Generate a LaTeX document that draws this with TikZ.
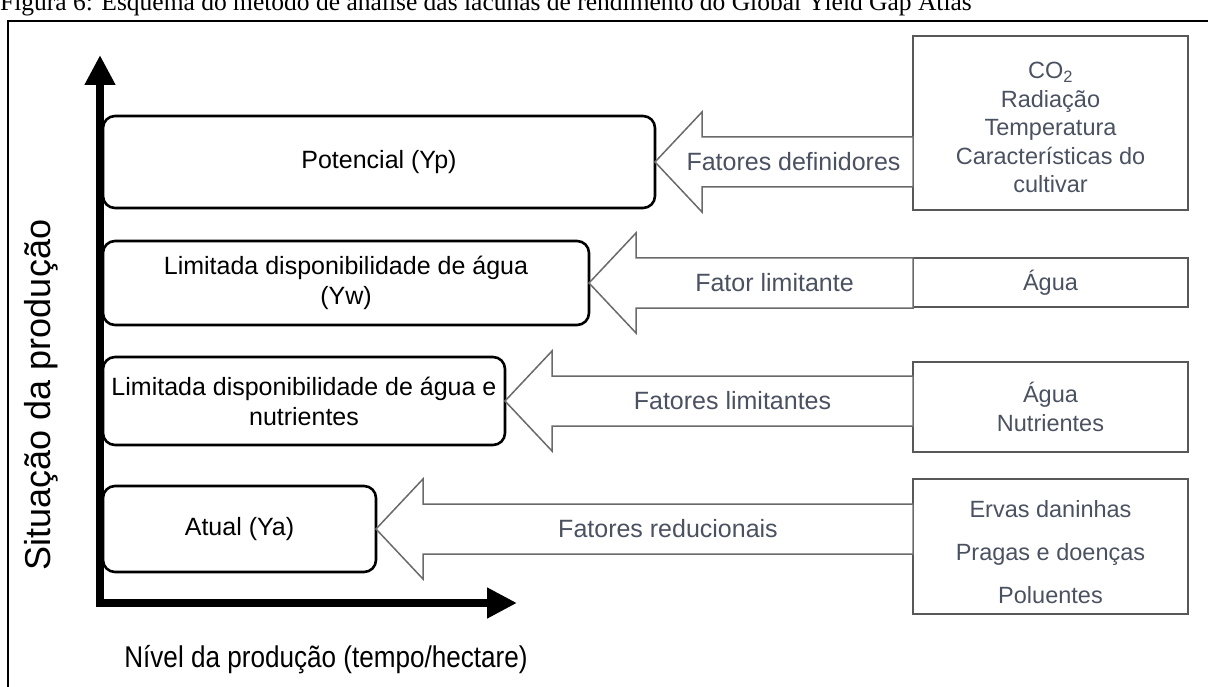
\documentclass[tikz,border=0pt]{standalone}
\usepackage{fontspec}
\setmainfont{Liberation Sans}
\newfontfamily\captionserif{Liberation Serif}
\usetikzlibrary{arrows.meta,positioning,calc}
\definecolor{slate}{HTML}{4A5160}
\definecolor{flowgray}{HTML}{6A6A6A}
\definecolor{boxgray}{HTML}{585858}
\newcommand{\pxfont}[2]{\fontsize{#1pt}{#2pt}\selectfont}

\begin{document}
\begin{tikzpicture}[x=1pt, y=-1pt,
  stage/.style={draw, line width=2.6pt, rounded corners=12pt, anchor=north west, align=center, inner sep=0pt, outer sep=0pt, font=\pxfont{25}{30}},
  factors/.style={draw=boxgray, line width=1.8pt, anchor=north west, align=center, inner sep=0pt, outer sep=0pt, text=slate, font=\pxfont{23.5}{28.5}},
  flow/.style={draw=flowgray, line width=1.5pt, fill=white},
  flowlabel/.style={text=slate, font=\pxfont{25}{30}, inner sep=0pt},
  axis/.style={line width=8.5pt, -{Triangle[length=30pt,width=29pt]}},
  axislabel/.style={inner sep=0pt}]
\useasboundingbox (0,0) rectangle (1208,687);
% page frame and (cut) caption
\draw[line width=1.8pt] (1208,21) -- (8,21) -- (8,687);
\node[font=\captionserif\pxfont{25.5}{30}, anchor=base west, inner sep=0pt] (caption) at (0,11) {Figura 6: Esquema do método de análise das lacunas de rendimento do Global Yield Gap Atlas};
% axes
\draw[axis] (100,607) -- (100,55);
\draw[axis] (96,603) -- (517,603);
\node[axislabel, font=\pxfont{36}{40}, rotate=90] (ylabel) at (41,395) {Situação da produção};
\node[axislabel, font=\pxfont{30}{34}] (xlabel) at (326,660) {\scalebox{0.87}[1]{Nível da produção (tempo/hectare)}};
% production situations
\node[stage, minimum width=552pt, minimum height=92pt] (yp) at (103,116) {Potencial (Yp)};
\node[stage, minimum width=486pt, minimum height=84pt] (yw) at (103,241) {Limitada disponibilidade de água\\(Yw)};
\node[stage, minimum width=402pt, minimum height=88pt] (ywn) at (103,357) {Limitada disponibilidade de água e\\nutrientes};
\node[stage, minimum width=273pt, minimum height=86pt] (ya) at (103,486) {Atual (Ya)};
% factors
\node[factors, minimum width=275pt, minimum height=174pt] (f1) at (913,36) {\rule{0pt}{26pt}CO\textsubscript{2}\\Radiação\\Temperatura\\Características do\\cultivar};
\node[factors, minimum width=275pt, minimum height=49pt] (f2) at (913,258) {Água};
\node[factors, minimum width=275pt, minimum height=90pt] (f3) at (913,362) {Água\\Nutrientes};
\node[factors, minimum width=275pt, minimum height=135pt, font=\pxfont{23.5}{43}] (f4) at (913,479) {\rule{0pt}{29pt}Ervas daninhas\\Pragas e doenças\\Poluentes};
% block arrows
\foreach \l/\r/\txt/\dx in {yp/f1/Fatores definidores/-14, yw/f2/Fator limitante/0, ywn/f3/Fatores limitantes/0, ya/f4/Fatores reducionais/0} {
  \draw[flow] (\l.east) -- ++(47,-50) -- ++(0,25) -- ($(\r.west |- \l.east)+(0,-25)$)
    -- ($(\r.west |- \l.east)+(0,25)$) -- ($(\l.east)+(47,25)$) -- ++(0,25) -- cycle;
  \node[flowlabel] (\l-label) at ($(\l.east)!0.5!(\r.west |- \l.east)+(23.5+\dx,0)$) {\txt};
}
\end{tikzpicture}
\end{document}
